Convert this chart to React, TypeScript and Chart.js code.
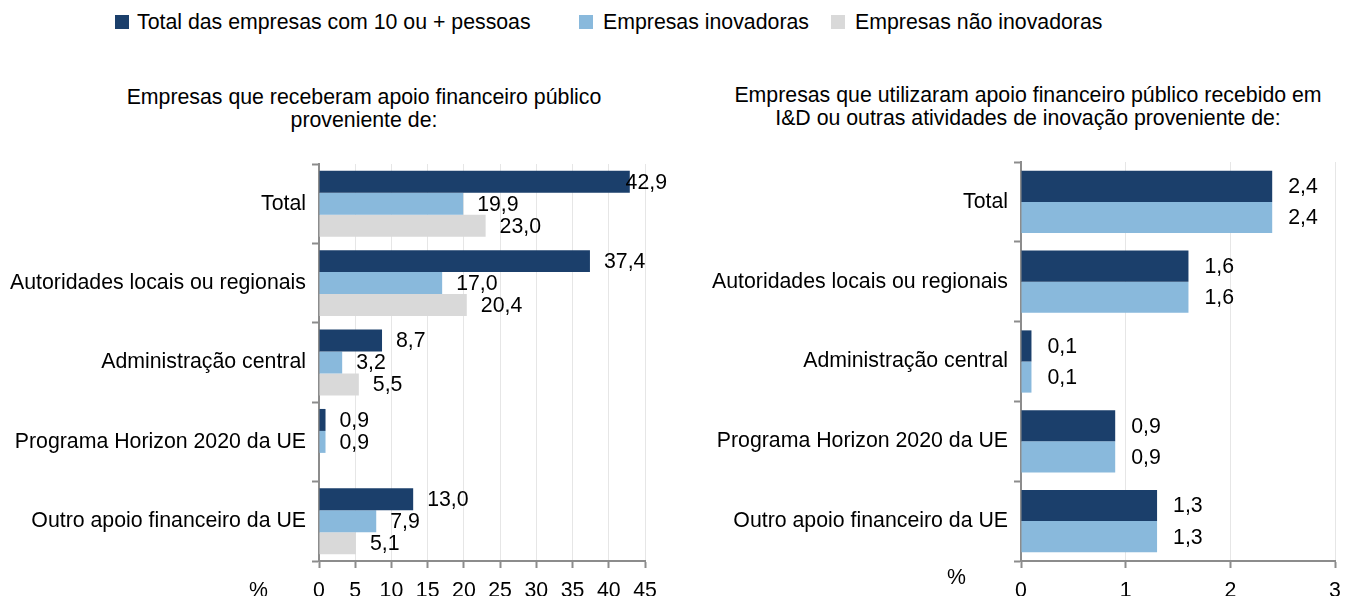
import React, { useEffect, useRef } from "react";
import { Chart, registerables } from "chart.js";

Chart.register(...registerables);

const categories = [
  "Total",
  "Autoridades locais ou regionais",
  "Administração central",
  "Programa Horizon 2020 da UE",
  "Outro apoio financeiro da UE",
];

const seriesNames = [
  "Total das empresas com 10 ou + pessoas",
  "Empresas inovadoras",
  "Empresas não inovadoras",
];

// Left chart: received public financial support
const receivedTotal = [42.9, 37.4, 8.7, 0.9, 13.0];
const receivedInnov = [19.9, 17.0, 3.2, 0.9, 7.9];
const receivedNonInnov: (number | null)[] = [23.0, 20.4, 5.5, null, 5.1];

// Right chart: used support in R&D / innovation
const usedTotal = [2.4, 1.6, 0.1, 0.9, 1.3];
const usedInnov = [2.4, 1.6, 0.1, 0.9, 1.3];

const leftTitle = ["Empresas que receberam apoio financeiro público", "proveniente de:"];
const rightTitle = [
  "Empresas que utilizaram apoio financeiro público recebido em",
  "I&D ou outras atividades de inovação proveniente de:",
];

const COLORS = ["#1b3f6b", "#89b9dc", "#d9d9d9"];
const FONT = "'Liberation Sans', Arial, sans-serif";
const FS = 21.3;
const AXIS = "#8c8c8c";
const GRID = "#e6e6e6";

function makeLabelPlugin(gap: number) {
  return {
    id: "valueLabels",
    afterDatasetsDraw(chart: any) {
      const ctx = chart.ctx;
      ctx.save();
      ctx.font = `${FS}px ${FONT}`;
      ctx.fillStyle = "#000";
      ctx.textBaseline = "middle";
      ctx.textAlign = "left";
      chart.data.datasets.forEach((ds: any, di: number) => {
        const meta = chart.getDatasetMeta(di);
        meta.data.forEach((bar: any, i: number) => {
          const v = ds.data[i];
          if (v === null || v === undefined) return;
          const text = v.toFixed(1).replace(".", ",");
          const w = ctx.measureText(text).width;
          let x = bar.x + gap;
          const maxX = chart.width - 3 - w;
          if (x > maxX) x = maxX;
          ctx.fillText(text, x, bar.y + 1);
        });
      });
      ctx.restore();
    },
  };
}

function buildOptions(opts: {
  yWidth: number;
  xHeight: number;
  padTop: number;
  padRight: number;
  max: number;
  step: number;
}) {
  return {
    indexAxis: "y" as const,
    animation: false as const,
    responsive: false,
    maintainAspectRatio: false,
    layout: { padding: { top: opts.padTop, right: opts.padRight, left: 0, bottom: 0 } },
    plugins: {
      legend: { display: false },
      title: { display: false },
      tooltip: { enabled: false },
    },
    scales: {
      x: {
        type: "linear" as const,
        position: "bottom" as const,
        min: 0,
        max: opts.max,
        ticks: {
          stepSize: opts.step,
          color: "#000",
          font: { family: FONT, size: FS },
          padding: 10,
          maxRotation: 0,
        },
        grid: {
          color: GRID,
          lineWidth: 1,
          drawOnChartArea: true,
          drawTicks: true,
          tickLength: 7,
          tickColor: AXIS,
          tickWidth: 2,
        },
        border: { display: true, color: AXIS, width: 2 },
        afterFit: (scale: any) => {
          scale.height = opts.xHeight;
          scale.paddingLeft = 0;
          scale.paddingRight = 0;
        },
      },
      y: {
        type: "category" as const,
        position: "left" as const,
        ticks: {
          color: "#000",
          font: { family: FONT, size: FS },
          padding: 6,
        },
        grid: {
          offset: true,
          drawOnChartArea: false,
          drawTicks: true,
          tickLength: 7,
          tickColor: AXIS,
          tickWidth: 2,
          color: AXIS,
        },
        border: { display: true, color: AXIS, width: 2 },
        afterFit: (scale: any) => {
          scale.width = opts.yWidth;
          scale.paddingTop = 0;
          scale.paddingBottom = 0;
        },
      },
    },
  };
}

function BarChart(props: {
  left: number;
  top: number;
  width: number;
  height: number;
  datasets: any[];
  options: any;
  gap: number;
}) {
  const ref = useRef<HTMLCanvasElement | null>(null);
  useEffect(() => {
    if (!ref.current) return;
    const chart = new Chart(ref.current, {
      type: "bar",
      data: { labels: categories, datasets: props.datasets },
      options: props.options,
      plugins: [makeLabelPlugin(props.gap)],
    });
    return () => chart.destroy();
  }, []);
  return (
    <canvas
      ref={ref}
      width={props.width}
      height={props.height}
      style={{
        position: "absolute",
        left: props.left,
        top: props.top,
        width: props.width,
        height: props.height,
      }}
    />
  );
}

const textStyle: React.CSSProperties = {
  position: "absolute",
  fontFamily: FONT,
  fontSize: FS,
  color: "#000",
  whiteSpace: "nowrap",
};

export default function App() {
  useEffect(() => {
    document.body.style.margin = "0";
  }, []);

  const leftDatasets = [
    { label: seriesNames[0], data: receivedTotal, backgroundColor: COLORS[0], categoryPercentage: 0.83, barPercentage: 1 },
    { label: seriesNames[1], data: receivedInnov, backgroundColor: COLORS[1], categoryPercentage: 0.83, barPercentage: 1 },
    { label: seriesNames[2], data: receivedNonInnov, backgroundColor: COLORS[2], categoryPercentage: 0.83, barPercentage: 1 },
  ];
  const rightDatasets = [
    { label: seriesNames[0], data: usedTotal, backgroundColor: COLORS[0], categoryPercentage: 0.78, barPercentage: 1 },
    { label: seriesNames[1], data: usedInnov, backgroundColor: COLORS[1], categoryPercentage: 0.78, barPercentage: 1 },
  ];

  const legendItems = [
    { box: 115, text: 137 },
    { box: 579, text: 603 },
    { box: 831, text: 855 },
  ];

  return (
    <div
      style={{
        position: "absolute",
        left: 0,
        top: 0,
        width: 1346,
        height: 596,
        overflow: "hidden",
        background: "#fff",
      }}
    >
      {legendItems.map((it, i) => (
        <React.Fragment key={i}>
          <div
            style={{
              position: "absolute",
              left: it.box,
              top: 15,
              width: 14,
              height: 14,
              background: COLORS[i],
            }}
          />
          <div style={{ ...textStyle, left: it.text, top: 10, lineHeight: "24px" }}>{seriesNames[i]}</div>
        </React.Fragment>
      ))}

      <div style={{ ...textStyle, left: 64, width: 600, top: 86, lineHeight: "23px", textAlign: "center" }}>
        {leftTitle[0]}
        <br />
        {leftTitle[1]}
      </div>
      <div style={{ ...textStyle, left: 728, width: 600, top: 84, lineHeight: "23px", textAlign: "center" }}>
        {rightTitle[0]}
        <br />
        {rightTitle[1]}
      </div>

      <BarChart
        left={0}
        top={150}
        width={670}
        height={460}
        datasets={leftDatasets}
        gap={14}
        options={buildOptions({ yWidth: 319, xHeight: 49, padTop: 14, padRight: 25, max: 45, step: 5 })}
      />
      <BarChart
        left={680}
        top={150}
        width={666}
        height={460}
        datasets={rightDatasets}
        gap={16}
        options={buildOptions({ yWidth: 341, xHeight: 49, padTop: 12, padRight: 11, max: 3, step: 1 })}
      />

      <div style={{ ...textStyle, left: 249, top: 578, lineHeight: "24px" }}>%</div>
      <div style={{ ...textStyle, left: 947, top: 565, lineHeight: "24px" }}>%</div>
    </div>
  );
}
